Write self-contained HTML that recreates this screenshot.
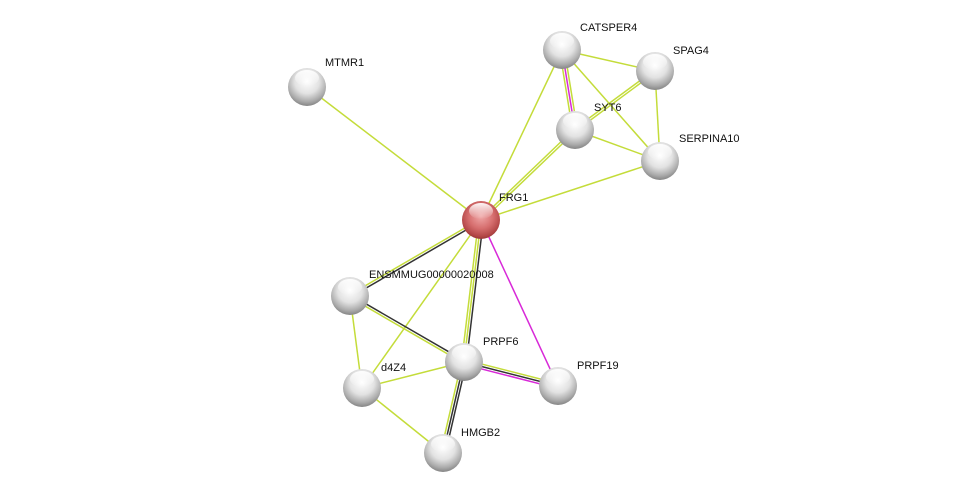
<!DOCTYPE html>
<html><head><meta charset="utf-8"><style>
html,body{margin:0;padding:0;background:#fff;}
svg{display:block;}
text{font-family:"Liberation Sans",sans-serif;font-size:11px;fill:#111;}
</style></head><body>
<svg id="s" width="975" height="498" viewBox="0 0 975 498" xmlns="http://www.w3.org/2000/svg">
<defs>
<radialGradient id="gw" cx="50%" cy="35%" r="65%">
<stop offset="0" stop-color="#ffffff"/><stop offset="0.5" stop-color="#e2e2e2"/><stop offset="0.82" stop-color="#ababab"/><stop offset="1" stop-color="#858585"/>
</radialGradient>
<radialGradient id="gr" cx="50%" cy="40%" r="65%">
<stop offset="0" stop-color="#f0a8a8"/><stop offset="0.5" stop-color="#d66e6e"/><stop offset="0.82" stop-color="#b24646"/><stop offset="1" stop-color="#862c2c"/>
</radialGradient>
<linearGradient id="hl" x1="0" y1="0" x2="0" y2="1">
<stop offset="0" stop-color="#fff" stop-opacity="0.95"/><stop offset="1" stop-color="#fff" stop-opacity="0"/>
</linearGradient>
</defs>
<g id="edges"></g>
<g id="nodes"></g>
</svg>
<script>
var N={
MTMR1:[307,87,"MTMR1",18,-25],
CATSPER4:[562,50,"CATSPER4",18,-23],
SPAG4:[655,71,"SPAG4",18,-21],
SYT6:[575,130,"SYT6",19,-23],
SERPINA10:[660,161,"SERPINA10",19,-23],
FRG1:[481,220,"FRG1",18,-23],
ENS:[350,296,"ENSMMUG00000020008",19,-22],
PRPF6:[464,362,"PRPF6",19,-21],
PRPF19:[558,386,"PRPF19",19,-21],
D4Z4:[362,388,"d4Z4",19,-21],
HMGB2:[443,453,"HMGB2",18,-21]
};
var G="#c4dc3a",K="#333",M="#d829d8";
var E=[
["MTMR1","FRG1",[G]],
["FRG1","CATSPER4",[G]],
["FRG1","SYT6",[G,G]],
["FRG1","SERPINA10",[G]],
["CATSPER4","SYT6",[G,M,G]],
["CATSPER4","SPAG4",[G]],
["CATSPER4","SERPINA10",[G]],
["SPAG4","SYT6",[G,G]],
["SPAG4","SERPINA10",[G]],
["SYT6","SERPINA10",[G]],
["FRG1","ENS",[K,G]],
["FRG1","PRPF6",[K,G,G]],
["FRG1","PRPF19",[M]],
["FRG1","D4Z4",[G]],
["ENS","PRPF6",[K,G]],
["ENS","D4Z4",[G]],
["PRPF6","PRPF19",[G,K,M]],
["PRPF6","D4Z4",[G]],
["PRPF6","HMGB2",[K,K,G]],
["D4Z4","HMGB2",[G]]
];
var ns="http://www.w3.org/2000/svg",eg=document.getElementById("edges"),ng=document.getElementById("nodes");
E.forEach(function(e){
 var a=N[e[0]],b=N[e[1]],dx=b[0]-a[0],dy=b[1]-a[1],l=Math.hypot(dx,dy),px=-dy/l,py=dx/l,n=e[2].length;
 e[2].forEach(function(c,i){
  var o=(i-(n-1)/2)*2.4,L=document.createElementNS(ns,"line");
  L.setAttribute("x1",a[0]+px*o);L.setAttribute("y1",a[1]+py*o);
  L.setAttribute("x2",b[0]+px*o);L.setAttribute("y2",b[1]+py*o);
  L.setAttribute("stroke",c);L.setAttribute("stroke-width","1.5");eg.appendChild(L);
 });
});
for(var k in N){
 var v=N[k],r=19,c=document.createElementNS(ns,"circle");
 c.setAttribute("cx",v[0]);c.setAttribute("cy",v[1]);c.setAttribute("r",r);
 c.setAttribute("fill",k=="FRG1"?"url(#gr)":"url(#gw)");ng.appendChild(c);
 var h=document.createElementNS(ns,"ellipse");
 h.setAttribute("cx",v[0]);h.setAttribute("cy",v[1]-9);h.setAttribute("rx",12);h.setAttribute("ry",8);
 h.setAttribute("fill","url(#hl)");ng.appendChild(h);
 var t=document.createElementNS(ns,"text");
 t.setAttribute("x",v[0]+v[3]);t.setAttribute("y",v[1]+v[4]+4);t.textContent=v[2];ng.appendChild(t);
}
</script>
</body></html>
